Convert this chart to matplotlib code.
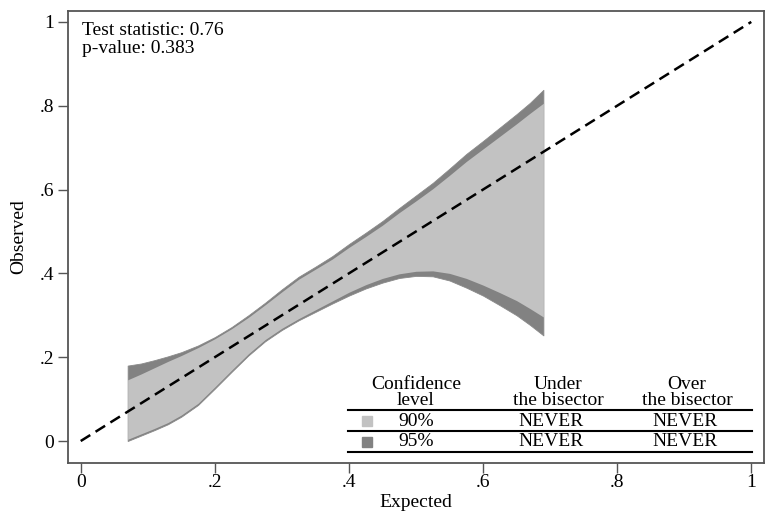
import matplotlib
matplotlib.use("Agg")
import matplotlib.pyplot as plt
import numpy as np

plt.rcParams['font.family'] = ['Liberation Serif', 'DejaVu Serif']

# Data
x_band = [0.07, 0.09, 0.11, 0.13, 0.15, 0.175, 0.20, 0.225, 0.25, 0.275, 0.30, 0.325, 0.35, 0.375,
          0.40, 0.425, 0.45, 0.475, 0.50, 0.525, 0.55, 0.575, 0.60, 0.625, 0.65, 0.67, 0.69]
upper95 = [0.180, 0.185, 0.193, 0.202, 0.212, 0.228, 0.248, 0.272, 0.300, 0.330, 0.362, 0.392, 0.416, 0.441,
           0.470, 0.497, 0.525, 0.556, 0.586, 0.616, 0.650, 0.685, 0.716, 0.748, 0.780, 0.807, 0.838]
upper90 = [0.146, 0.160, 0.175, 0.190, 0.204, 0.223, 0.244, 0.268, 0.295, 0.325, 0.356, 0.386, 0.410, 0.434,
           0.462, 0.488, 0.515, 0.545, 0.573, 0.602, 0.634, 0.667, 0.697, 0.727, 0.757, 0.782, 0.806]
lower90 = [0.004, 0.017, 0.030, 0.044, 0.062, 0.090, 0.129, 0.169, 0.208, 0.242, 0.269, 0.292, 0.313, 0.334,
           0.355, 0.373, 0.388, 0.399, 0.405, 0.406, 0.400, 0.388, 0.372, 0.354, 0.335, 0.316, 0.296]
lower95 = [0.000, 0.013, 0.026, 0.040, 0.058, 0.086, 0.125, 0.165, 0.204, 0.238, 0.265, 0.288, 0.308, 0.328,
           0.347, 0.364, 0.378, 0.389, 0.394, 0.393, 0.383, 0.366, 0.347, 0.324, 0.300, 0.277, 0.252]
bisector = [0.0, 1.0]

ticks = [0, 0.2, 0.4, 0.6, 0.8, 1.0]
tick_labels = ["0", ".2", ".4", ".6", ".8", "1"]

stat_text = "Test statistic: 0.76\np-value: 0.383"
table_header = ["Confidence\nlevel", "Under\nthe bisector", "Over\nthe bisector"]
table_rows = [["90%", "NEVER", "NEVER"], ["95%", "NEVER", "NEVER"]]

light = "#c2c2c2"
dark = "#828282"

fig = plt.figure(figsize=(7.68, 5.17), dpi=100)
ax = fig.add_axes([0.0885, 0.1044, 0.9063, 0.8743])

ax.fill_between(x_band, lower95, upper95, color=dark, linewidth=0.6, edgecolor="#8a8a8a")
ax.fill_between(x_band, lower90, upper90, color=light, linewidth=0)
ax.plot(bisector, bisector, color="black", linestyle=(0, (4.5, 2.5)), linewidth=1.8)

ax.set_xlim(-0.019, 1.019)
ax.set_ylim(-0.0525, 1.026)
ax.set_xticks(ticks)
ax.set_xticklabels(tick_labels)
ax.set_yticks(ticks)
ax.set_yticklabels(tick_labels)
ax.tick_params(direction="out", length=7, width=1, color="#555555", labelsize=14)
ax.tick_params(axis="x", pad=1)
ax.tick_params(axis="y", pad=3)
for s in ax.spines.values():
    s.set_color("#555555")
    s.set_linewidth(1.3)

ax.set_xlabel("Expected", fontsize=14, labelpad=2)
ax.set_ylabel("Observed", fontsize=14, labelpad=9)

ax.text(0.0015, 0.958, stat_text, fontsize=14, ha="left", va="center", linespacing=1.05)

# Table inside the plot
fs = 14
col_x = [0.50, 0.712, 0.904]
for cx, h in zip(col_x, table_header):
    ax.text(cx, 0.115, h, fontsize=fs, ha="center", va="center", linespacing=0.95)
line_y = [0.074, 0.024, -0.026]
for ly in line_y:
    ax.plot([0.398, 1.001], [ly, ly], color="black", linewidth=1.5, clip_on=False)
row_y = [0.047, -0.002]
marker_col = [light, dark]
for (r, ry, mc) in zip(table_rows, row_y, marker_col):
    ax.plot([0.427], [ry], marker="s", markersize=7, color=mc, linestyle="none")
    ax.text(0.50, ry, r[0], fontsize=fs, ha="center", va="center")
    ax.text(0.702, ry, r[1], fontsize=fs, ha="center", va="center")
    ax.text(0.901, ry, r[2], fontsize=fs, ha="center", va="center")

fig.savefig("out.png", dpi=100)
